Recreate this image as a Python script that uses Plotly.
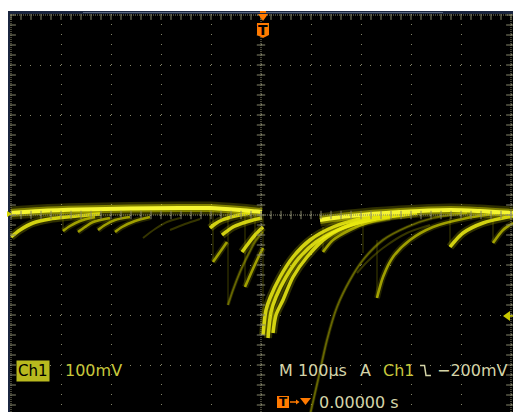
import plotly.graph_objects as go

# Axes: time in microseconds (100 us/div), voltage in millivolts (100 mV/div)
T_RANGE = [-502, 504]
V_RANGE = [-394, 402]
T_DIV = 100
V_DIV = 100

# Persistence sweeps, each a list of (t_us, v_mV) samples
baseline_pre = [(-500, 4), (-442, 8), (-362, 11), (-262, 13), (-162, 14), (-102, 14), (-42, 10), (2, 6)]
baseline_post = [(118, -10), (178, -2), (278, 6), (378, 10), (438, 8), (504, 4)]

rec_left = [(-500, -44), (-482, -30), (-456, -16), (-422, -8), (-388, -4), (-322, 2)]
saw_1 = [(-396, -32), (-382, -22), (-362, -12), (-332, -4)]
saw_2 = [(-366, -34), (-352, -24), (-336, -14), (-302, -6)]
saw_3 = [(-326, -30), (-312, -20), (-292, -10), (-262, -4)]
saw_4 = [(-292, -34), (-278, -24), (-252, -12), (-222, -4)]
saw_5 = [(-236, -46), (-212, -28), (-188, -14), (-162, -6)]
saw_6 = [(-182, -30), (-152, -18), (-122, -8)]

pre_1 = [(-102, -26), (-92, -18), (-78, -10), (-52, -2), (-22, 4)]
pre_2 = [(-78, -40), (-56, -24), (-36, -16), (-16, -10), (2, -6)]
pre_3 = [(-96, -94), (-82, -74), (-68, -54)]
pre_4 = [(-66, -180), (-56, -150), (-42, -114), (-26, -80), (-12, -54), (4, -34)]
pre_5 = [(-32, -144), (-18, -112), (-6, -86), (4, -66)]
pre_6 = [(-38, -74), (-26, -58), (-12, -40), (4, -24)]

post_1 = [(4, -240), (10, -190), (18, -166), (38, -124), (64, -84), (98, -50), (144, -24), (198, -8), (278, 4)]
post_1b = [(14, -246), (20, -194), (30, -164), (50, -124), (76, -86), (110, -54), (158, -28), (218, -10), (298, 2)]
post_2 = [(24, -236), (30, -200), (44, -170), (64, -124), (92, -84), (132, -44), (178, -20), (244, -4), (312, 4)]
post_3 = [(98, -400), (114, -330), (132, -250), (152, -184), (178, -130), (204, -90), (244, -50), (292, -24), (344, -6), (412, 4)]
post_4 = [(232, -166), (244, -124), (264, -84), (298, -50), (344, -24), (412, -6), (478, 4)]
post_5 = [(378, -64), (388, -52), (404, -36), (444, -16), (504, -2)]
post_6 = [(464, -56), (484, -30), (504, -16)]
post_7 = [(124, -74), (144, -50), (178, -30), (212, -16), (258, -6)]
post_8 = [(192, -116), (212, -94), (244, -66), (292, -36), (338, -20)]

# Fast falling edges: (t_us, v_top, v_bottom)
edges = [(-396, 6, -32), (-102, 14, -26), (-96, 8, -94), (-66, 6, -180), (-32, 8, -144),
         (-12, 2, -50), (4, 2, -240), (24, -176, -236), (124, -24, -74), (204, -10, -76),
         (232, -50, -166), (378, -4, -64), (464, -10, -56)]

# Readout text
ch_label = "Ch1"
ch_scale = "100mV"
time_scale = "M 100µs"
trig_mode = "A"
trig_src = "Ch1"
trig_level = "−200mV"
trig_pos = "0.00000 s"

# Intensity layers for the persistence display: (line width, colour)
STYLE = {
    "hot": [(13, "rgba(215,215,0,0.22)"), (8, "rgba(230,230,0,0.45)"), (4, "rgb(245,245,50)")],
    "bright": [(8, "rgba(220,220,0,0.22)"), (3.5, "rgba(238,238,20,0.85)")],
    "mid": [(6, "rgba(200,200,0,0.18)"), (2.6, "rgba(212,212,0,0.7)")],
    "dim": [(3.5, "rgba(150,150,0,0.22)"), (1.8, "rgba(160,160,0,0.55)")],
    "faint": [(2, "rgba(105,105,0,0.5)")],
}

sweeps = [
    (rec_left, "bright"), (saw_1, "mid"), (saw_2, "mid"), (saw_3, "mid"), (saw_4, "mid"),
    (saw_5, "faint"), (saw_6, "faint"),
    (pre_1, "bright"), (pre_2, "bright"), (pre_3, "mid"), (pre_4, "dim"), (pre_5, "mid"), (pre_6, "bright"),
    (post_3, "dim"), (post_8, "faint"), (post_4, "mid"), (post_5, "bright"), (post_6, "mid"),
    (post_7, "mid"), (post_2, "bright"), (post_1b, "bright"), (post_1, "bright"),
    (baseline_pre, "hot"), (baseline_post, "hot"),
]

GRID = "#85856a"
ORANGE = "#ff7a00"
OLIVE = "#c8c83c"
PALE = "#d4d4a8"
FONT = "DejaVu Sans"

fig = go.Figure()

# Falling edges (dim, drawn first)
for t, v0, v1 in edges:
    fig.add_trace(go.Scatter(x=[t, t], y=[v0, v1], mode="lines",
                             line=dict(color="rgba(140,140,0,0.45)", width=1), hoverinfo="skip"))

# Recovery curves with glow layers
for pts, level in sweeps:
    ts = [p[0] for p in pts]
    vs = [p[1] for p in pts]
    for w, c in STYLE[level]:
        fig.add_trace(go.Scatter(x=ts, y=vs, mode="lines",
                                 line=dict(color=c, width=w, shape="spline", smoothing=0.8),
                                 hoverinfo="skip"))

# Graticule tick marks along the centre cross and the borders
minor_t = list(range(-500, 501, 20))
minor_v = list(range(-400, 401, 20))
fig.add_trace(go.Scatter(x=minor_t, y=[0] * len(minor_t), mode="markers",
                         marker=dict(symbol="line-ns", size=6, line=dict(color=GRID, width=1)), hoverinfo="skip"))
fig.add_trace(go.Scatter(x=[0] * len(minor_v), y=minor_v, mode="markers",
                         marker=dict(symbol="line-ew", size=6, line=dict(color=GRID, width=1)), hoverinfo="skip"))
fig.add_trace(go.Scatter(x=minor_t, y=[400] * len(minor_t), mode="markers",
                         marker=dict(symbol="line-ns", size=7, line=dict(color=GRID, width=1)), hoverinfo="skip"))
fig.add_trace(go.Scatter(x=[-500] * len(minor_v), y=minor_v, mode="markers",
                         marker=dict(symbol="line-ew", size=7, line=dict(color=GRID, width=1)), hoverinfo="skip"))
fig.add_trace(go.Scatter(x=[500] * len(minor_v), y=minor_v, mode="markers",
                         marker=dict(symbol="line-ew", size=7, line=dict(color=GRID, width=1)), hoverinfo="skip"))

# Pixel helpers for decorations outside the plotting area
W, H, ML, MT = 513, 412, 10, 14
PW, PH = W - ML, H - MT


def px(p):
    return (p - ML) / PW


def py(p):
    return (H - p) / PH


shapes = [
    # dense dotted centre cross and border
    dict(type="line", xref="x", yref="y", x0=0, x1=0, y0=V_RANGE[0], y1=400, line=dict(color=GRID, width=1, dash="1px,1px")),
    dict(type="line", xref="x", yref="y", x0=-500, x1=500, y0=0, y1=0, line=dict(color=GRID, width=1, dash="1px,1px")),
    dict(type="line", xref="x", yref="y", x0=-500, x1=-500, y0=V_RANGE[0], y1=400, line=dict(color=GRID, width=1, dash="1px,1px")),
    dict(type="line", xref="x", yref="y", x0=500, x1=500, y0=V_RANGE[0], y1=400, line=dict(color=GRID, width=1, dash="1px,1px")),
    dict(type="line", xref="x", yref="y", x0=-500, x1=500, y0=400, y1=400, line=dict(color=GRID, width=1, dash="1px,1px")),
    # frame bands
    dict(type="rect", xref="paper", yref="paper", x0=px(8), x1=1, y0=py(14), y1=py(11),
         line=dict(width=0), fillcolor="#1b2640", layer="above"),
    dict(type="rect", xref="paper", yref="paper", x0=px(83), x1=px(443), y0=py(13), y1=py(12),
         line=dict(width=0), fillcolor="#5c6a82", layer="above"),
    dict(type="rect", xref="paper", yref="paper", x0=px(8), x1=px(10), y0=0, y1=py(11),
         line=dict(width=0), fillcolor="#1b2640", layer="above"),
    dict(type="rect", xref="paper", yref="paper", x0=px(260), x1=px(266), y0=py(13), y1=py(11),
         line=dict(width=0), fillcolor=ORANGE, layer="above"),
    # trigger position marker at top
    dict(type="path", xref="x", yref="y", path="M -6,402 L 14,402 L 4,388 Z",
         line=dict(width=0), fillcolor=ORANGE, layer="above"),
    dict(type="path", xref="x", yref="y", path="M -8,384 L 16,384 L 16,360 L 4,354 L -8,360 Z",
         line=dict(width=0), fillcolor=ORANGE, layer="above"),
    # ground level marker (left) and trigger level marker (right)
    dict(type="path", xref="paper", yref="paper",
         path=f"M {px(7)},{py(211)} L {px(7)},{py(217)} L {px(12)},{py(214)} Z",
         line=dict(width=0), fillcolor="#d8d800", layer="above"),
    dict(type="path", xref="x", yref="y", path="M 484,-202 L 498,-192 L 498,-212 Z",
         line=dict(width=0), fillcolor="#c8c800", layer="above"),
    dict(type="line", xref="x", yref="y", x0=496, x1=508, y0=-202, y1=-202,
         line=dict(color="#c8c800", width=1.5), layer="above"),
    # falling-edge slope symbol
    dict(type="path", xref="x", yref="y", path="M 318,-301 L 327,-301 L 330,-321 L 340,-321",
         line=dict(color=PALE, width=1.5), layer="above"),
    # trigger readout badge at bottom
    dict(type="rect", xref="x", yref="y", x0=32, x1=56, y0=-386, y1=-362,
         line=dict(width=0), fillcolor=ORANGE, layer="above"),
    dict(type="line", xref="x", yref="y", x0=58, x1=74, y0=-374, y1=-374,
         line=dict(color=ORANGE, width=1.5), layer="above"),
    dict(type="path", xref="x", yref="y", path="M 70,-369 L 77,-374 L 70,-379 Z",
         line=dict(width=0), fillcolor=ORANGE, layer="above"),
    dict(type="path", xref="x", yref="y", path="M 78,-366 L 100,-366 L 89,-380 Z",
         line=dict(width=0), fillcolor=ORANGE, layer="above"),
]


def label(x, y, text, color, size=16, **kw):
    return dict(x=x, y=y, xref="x", yref="y", text=text, showarrow=False, xanchor="left",
                yanchor="middle", font=dict(family=FONT, size=size, color=color), **kw)


annotations = [
    label(-490, -311, ch_label, "#000000", size=15, bgcolor="#b9b91e", borderpad=1),
    label(-396, -310, ch_scale, OLIVE),
    label(32, -310, time_scale, PALE),
    label(194, -310, trig_mode, PALE),
    label(240, -310, trig_src, OLIVE),
    label(348, -310, trig_level, PALE),
    label(112, -374, trig_pos, PALE),
    dict(x=44, y=-373, xref="x", yref="y", text="<b>T</b>", showarrow=False,
         font=dict(family=FONT, size=12, color="#000000")),
    dict(x=4, y=371, xref="x", yref="y", text="<b>T</b>", showarrow=False,
         font=dict(family=FONT, size=14, color="#000000")),
]

fig.update_layout(
    width=W, height=H,
    margin=dict(l=ML, r=0, t=MT, b=0, pad=0),
    paper_bgcolor="#ffffff",
    plot_bgcolor="#000000",
    showlegend=False,
    shapes=shapes,
    annotations=annotations,
    xaxis=dict(range=T_RANGE, dtick=T_DIV, tick0=0, showgrid=True, gridcolor=GRID, gridwidth=1,
               griddash="1px,9px", zeroline=False, showticklabels=False, ticks="", fixedrange=True),
    yaxis=dict(range=V_RANGE, dtick=V_DIV, tick0=0, showgrid=True, gridcolor=GRID, gridwidth=1,
               griddash="1px,9px", zeroline=False, showticklabels=False, ticks="", fixedrange=True),
)

fig.write_html("out.html", config={"displayModeBar": False})
